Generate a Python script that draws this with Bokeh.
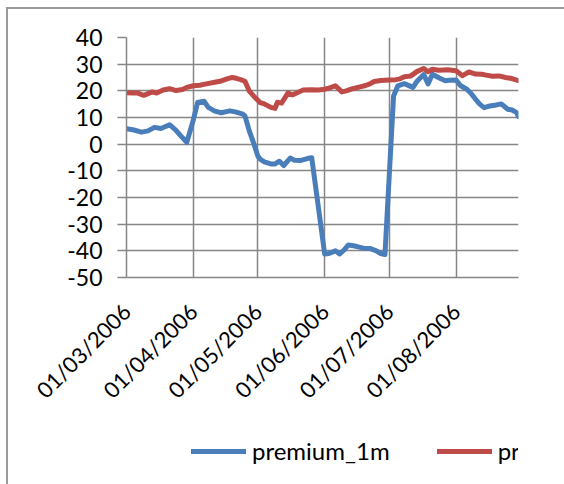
import math
from datetime import datetime

from bokeh.plotting import figure
from bokeh.layouts import column
from bokeh.models import (Range1d, FixedTicker, MonthsTicker, DatetimeTickFormatter,
                          Legend, LegendItem)
from bokeh.embed import file_html
from bokeh.resources import INLINE

# ---- data -------------------------------------------------------------
dates_1m = ["2006-03-01", "2006-03-04", "2006-03-08", "2006-03-11", "2006-03-14",
            "2006-03-17", "2006-03-21", "2006-03-24", "2006-03-26", "2006-03-29",
            "2006-04-01", "2006-04-03", "2006-04-06", "2006-04-08", "2006-04-11",
            "2006-04-14", "2006-04-18", "2006-04-21", "2006-04-24", "2006-04-25",
            "2006-04-27", "2006-04-29", "2006-05-01", "2006-05-02", "2006-05-04",
            "2006-05-07", "2006-05-09", "2006-05-11", "2006-05-13", "2006-05-16",
            "2006-05-18", "2006-05-21", "2006-05-24", "2006-05-26", "2006-06-01",
            "2006-06-03", "2006-06-06", "2006-06-08", "2006-06-10", "2006-06-12",
            "2006-06-15", "2006-06-17", "2006-06-19", "2006-06-22", "2006-06-25",
            "2006-06-27", "2006-06-29", "2006-07-03", "2006-07-05", "2006-07-08",
            "2006-07-12", "2006-07-14", "2006-07-17", "2006-07-19", "2006-07-21",
            "2006-07-24", "2006-07-27", "2006-07-29", "2006-08-01", "2006-08-03",
            "2006-08-06", "2006-08-08", "2006-08-10", "2006-08-12", "2006-08-14",
            "2006-08-16", "2006-08-19", "2006-08-22", "2006-08-25", "2006-08-27",
            "2006-08-29", "2006-08-30"]
premium_1m = [5.8, 5.4, 4.5, 5.0, 6.3,
              5.9, 7.3, 5.2, 3.3, 0.7,
              9.0, 15.6, 16.1, 13.8, 12.4,
              11.8, 12.5, 12.0, 11.3, 10.6,
              5.0, 0.5, -4.5, -5.6, -6.6,
              -7.4, -7.4, -6.4, -8.0, -5.2,
              -6.0, -6.1, -5.4, -5.1, -41.2,
              -41.0, -40.0, -41.2, -39.7, -37.8,
              -38.2, -38.6, -39.0, -39.1, -40.0,
              -41.0, -41.4, 18.1, 21.9, 22.7,
              21.3, 23.7, 26.1, 22.6, 26.2,
              24.9, 23.8, 24.0, 24.1, 22.0,
              20.6, 19.0, 16.9, 15.0, 13.7,
              14.2, 14.6, 15.1, 13.1, 12.8,
              11.9, 10.3]

dates_1y = ["2006-03-01", "2006-03-04", "2006-03-06", "2006-03-09", "2006-03-13",
            "2006-03-15", "2006-03-18", "2006-03-21", "2006-03-24", "2006-03-27",
            "2006-03-29", "2006-04-01", "2006-04-04", "2006-04-07", "2006-04-11",
            "2006-04-14", "2006-04-17", "2006-04-19", "2006-04-21", "2006-04-23",
            "2006-04-25", "2006-04-27", "2006-04-29", "2006-05-02", "2006-05-04",
            "2006-05-07", "2006-05-09", "2006-05-10", "2006-05-12", "2006-05-15",
            "2006-05-17", "2006-05-19", "2006-05-22", "2006-05-26", "2006-05-29",
            "2006-06-01", "2006-06-03", "2006-06-06", "2006-06-09", "2006-06-11",
            "2006-06-14", "2006-06-17", "2006-06-20", "2006-06-22", "2006-06-24",
            "2006-06-27", "2006-07-01", "2006-07-04", "2006-07-06", "2006-07-08",
            "2006-07-11", "2006-07-14", "2006-07-17", "2006-07-19", "2006-07-21",
            "2006-07-24", "2006-07-28", "2006-08-01", "2006-08-04", "2006-08-07",
            "2006-08-10", "2006-08-13", "2006-08-15", "2006-08-18", "2006-08-21",
            "2006-08-24", "2006-08-27", "2006-08-30"]
premium_1y = [19.3, 19.2, 19.2, 18.3, 19.6,
              19.2, 20.3, 20.8, 20.1, 20.5,
              21.3, 21.9, 22.1, 22.6, 23.2,
              23.7, 24.6, 25.0, 24.7, 24.2,
              23.6, 19.9, 18.1, 15.6, 15.1,
              13.8, 13.4, 15.7, 15.4, 19.2,
              18.5, 19.2, 20.3, 20.4, 20.3,
              20.6, 21.0, 21.9, 19.6, 20.0,
              20.8, 21.4, 22.0, 22.6, 23.5,
              23.9, 24.1, 24.2, 24.5, 25.3,
              25.6, 27.3, 28.4, 27.2, 28.1,
              27.7, 27.9, 27.5, 25.7, 27.1,
              26.3, 26.2, 25.9, 25.5, 25.6,
              25.0, 24.6, 23.8]

y_ticks = [-50, -40, -30, -20, -10, 0, 10, 20, 30, 40]

# ---- styling ----------------------------------------------------------
FONT = "Lato"
GRID = "#868686"
BLUE = "#4a7ebb"
RED = "#be4b48"

def parse(ds):
    return [datetime.strptime(d, "%Y-%m-%d") for d in ds]

x_1m = parse(dates_1m)
x_1y = parse(dates_1y)

# ---- main chart -------------------------------------------------------
p = figure(frame_width=392, frame_height=240, x_axis_type="datetime",
           output_backend="svg", toolbar_location=None,
           x_range=Range1d(x_1m[0], x_1m[-1]),
           y_range=Range1d(y_ticks[0], y_ticks[-1]),
           min_border_left=118, min_border_right=46,
           min_border_top=28, min_border_bottom=150)
p.outline_line_color = None
p.background_fill_color = "white"
p.border_fill_color = "white"

p.line(x_1m, premium_1m, line_color=BLUE, line_width=5,
       line_join="round", line_cap="round")
p.line(x_1y, premium_1y, line_color=RED, line_width=5,
       line_join="round", line_cap="round")

# y axis
p.yaxis.ticker = FixedTicker(ticks=y_ticks)
p.yaxis.major_label_overrides = {t: str(t) for t in y_ticks}
p.yaxis.axis_line_color = GRID
p.yaxis.axis_line_width = 1.5
p.yaxis.major_tick_line_color = GRID
p.yaxis.major_tick_line_width = 1.5
p.yaxis.major_tick_out = 9
p.yaxis.major_tick_in = 0
p.yaxis.minor_tick_line_color = None
p.yaxis.major_label_standoff = 15
p.yaxis.major_label_text_font = FONT
p.yaxis.major_label_text_font_size = "23px"
p.yaxis.major_label_text_color = "black"

# x axis: one tick per month start
month_ticker = MonthsTicker(months=list(range(1, 13)))
p.xaxis.ticker = month_ticker
p.xaxis.formatter = DatetimeTickFormatter(days="%d/%m/%Y", months="%d/%m/%Y",
                                          years="%d/%m/%Y")
p.xaxis.axis_line_color = GRID
p.xaxis.axis_line_width = 1.5
p.xaxis.major_tick_out = 0
p.xaxis.major_tick_in = 0
p.xaxis.minor_tick_line_color = None
p.xaxis.major_label_orientation = math.pi / 4
p.xaxis.major_label_standoff = 30
p.xaxis.major_label_text_font = FONT
p.xaxis.major_label_text_font_size = "22px"
p.xaxis.major_label_text_color = "black"

p.xgrid.ticker = month_ticker
p.ygrid.ticker = FixedTicker(ticks=y_ticks)
for g in (p.xgrid, p.ygrid):
    g.grid_line_color = GRID
    g.grid_line_width = 1.5

# ---- legend strip ------------------------------------------------------
# same two series, drawn against a y range they never reach, so only
# their legend swatches show
leg = figure(width=556, height=59, x_axis_type=None, y_axis_type=None,
             output_backend="svg", toolbar_location=None, min_border=0,
             x_range=p.x_range, y_range=Range1d(1000, 1001))
leg.outline_line_color = None
leg.background_fill_color = "white"
leg.border_fill_color = "white"

k1 = leg.line(x_1m, premium_1m, line_color=BLUE, line_width=5, line_cap="round")
k2 = leg.line(x_1y, premium_1y, line_color=RED, line_width=5, line_cap="round")

legend = Legend(items=[LegendItem(label="premium_1m", renderers=[k1]),
                       LegendItem(label="premium_1y", renderers=[k2])],
                orientation="horizontal", location=(65, 21),
                label_text_font=FONT, label_text_font_size="24px",
                label_text_color="black",
                glyph_width=55, glyph_height=20, label_standoff=6, spacing=47,
                border_line_color=None, background_fill_alpha=0, padding=0, margin=0)
leg.add_layout(legend)

# chart area with a thin grey edge on its top and left
layout = column(p, leg, spacing=0,
                styles={"margin-left": "6px", "margin-top": "7px",
                        "border-left": "2px solid #999999",
                        "border-top": "2px solid #999999"})

open("out.html", "w").write(file_html(layout, INLINE))
